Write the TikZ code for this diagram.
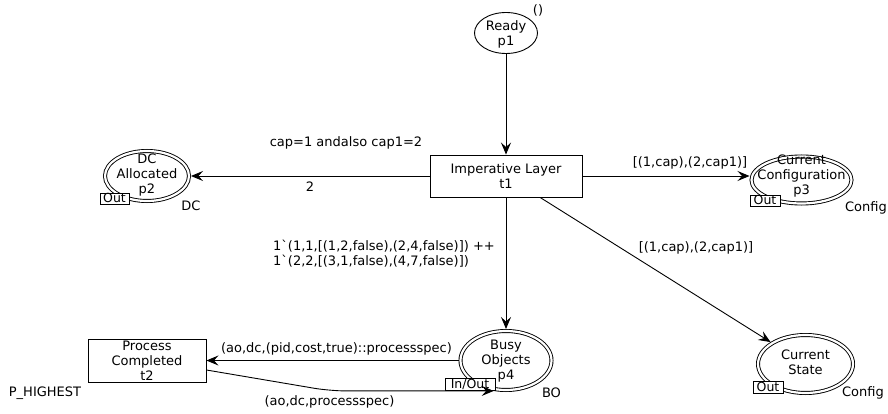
\documentclass[tikz,border=0pt]{standalone}
\usepackage{fontspec}
\setmainfont{DejaVu Sans}
% a family without the TeX quote mapping, for the plain backquote
\newfontfamily\plainfont{DejaVu Sans}
\usetikzlibrary{shapes.geometric,arrows.meta,calc}
\newcommand{\bq}{{\plainfont`}}
\begin{document}
\begin{tikzpicture}[x=1pt,y=-1pt,
  every node/.style={font=\fontsize{13}{15}\selectfont, inner sep=0pt},
  place/.style={ellipse, draw, line width=0.9pt, inner sep=0pt, outer sep=0.45pt},
  port/.style={ellipse, draw, line width=0.9pt, double, double distance=2.2pt, inner sep=0pt, outer sep=2pt},
  trans/.style={rectangle, draw, line width=0.9pt, fill=white},
  tag/.style={rectangle, draw, line width=0.8pt, fill=white, font=\fontsize{12.5}{12}\selectfont,
    text height=9pt, text depth=1.5pt, inner xsep=0pt, inner ysep=0.5pt},
  lbl/.style={align=center},
  arc/.style={draw, line width=0.9pt, -{Stealth[length=12pt,width=10pt,inset=4.5pt]}}
]
\useasboundingbox (0,0) rectangle (888,414);

% places
\node[place, minimum width=63pt, minimum height=41pt] (p1) at (506,33) {};
\node[lbl] (p1txt) at (506,34) {Ready\\p1};
\node (p1mark) at (538,10) {()};

\node[port, minimum width=84pt, minimum height=50pt] (p2) at (147,176) {};
\node[lbl] (p2txt) at (147,175) {DC\\Allocated\\p2};
\node[tag, minimum width=29pt] (p2tag) at (114.5,199) {Out};
\node (p2type) at (191,206) {DC};

\node[port, minimum width=100pt, minimum height=47pt] (p3) at (801.5,180) {};
\node[lbl] (p3txt) at (801.5,176) {Current\\Configuration\\p3};
\node[tag, minimum width=30pt] (p3tag) at (765,201) {Out};
\node (p3type) at (866,208) {Config};

\node[port, minimum width=91pt, minimum height=59pt] (p4) at (506,360.5) {};
\node[lbl] (p4txt) at (506,361) {Busy\\Objects\\p4};
\node[tag, minimum width=50pt] (p4tag) at (470,384.5) {In/Out};
\node (p4type) at (551.5,393) {BO};

\node[port, minimum width=95pt, minimum height=58pt] (cs) at (805.5,364) {};
\node[lbl] (cstxt) at (805.5,362) {Current\\State};
\node[tag, minimum width=30pt] (cstag) at (768,387.5) {Out};
\node (cstype) at (863,393) {Config};

% transitions
\node[trans, minimum width=152pt, minimum height=42pt] (t1) at (506,176) {};
\node[lbl] (t1txt) at (506,176) {Imperative Layer\\t1};

\node[trans, minimum width=118pt, minimum height=43pt] (t2) at (147,360.5) {};
\node[lbl] (t2txt) at (147,360.5) {Process\\Completed\\t2};
\node (t2prio) at (45,393) {P\_HIGHEST};

% arcs
\draw[arc] (p1) -- (t1);
\draw[arc] (t1) -- (p2);
\draw[arc] (t1.east) -- (t1.east -| p3.west);
\draw[arc] (t1) -- (p4);
\draw[arc] (t1) -- (cs);
\draw[arc] (p4) -- (t2);
\coordinate (t2out) at ([yshift=-9.5pt]t2.east);
\draw[arc, rounded corners=16pt] (t2out) -- (330,0 |- p4.248) -- (p4.248);

% arc inscriptions
\node (g1) at (346,143) {cap=1 andalso cap1=2};
\node (a2) at (310,187) {2};
\node (a3) at (690,163) {[(1,cap),(2,cap1)]};
\node[align=left, anchor=west] (a4) at (273,253.5) {1\bq(1,1,[(1,2,false),(2,4,false)]) ++\\1\bq(2,2,[(3,1,false),(4,7,false)])};
\node (a5) at (696,248) {[(1,cap),(2,cap1)]};
\node (a6) at (336.5,349) {(ao,dc,(pid,cost,true)::processspec)};
\node (a7) at (329.5,402) {(ao,dc,processspec)};
\end{tikzpicture}
\end{document}
